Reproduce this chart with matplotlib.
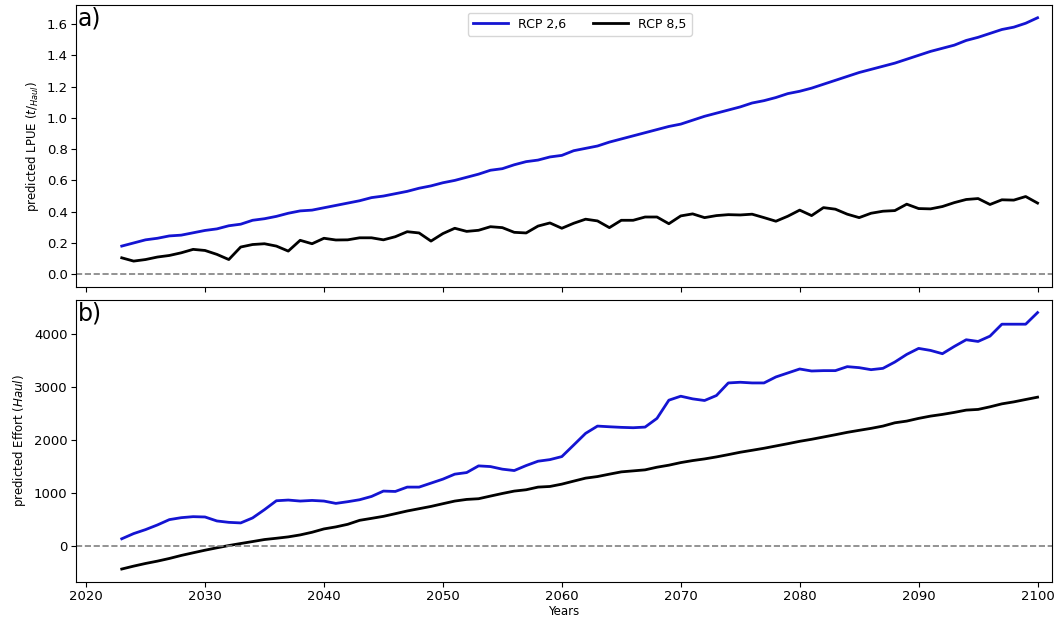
import numpy as np
import matplotlib.pyplot as plt
from matplotlib.ticker import MultipleLocator, FormatStrFormatter

years = np.arange(2023, 2101)

# predicted LPUE (t/Haul)
lpue_rcp26 = [0.18, 0.20, 0.22, 0.23, 0.245, 0.25, 0.265, 0.28, 0.29, 0.31,
              0.32, 0.345, 0.355, 0.37, 0.39, 0.405, 0.41, 0.425, 0.44, 0.455,
              0.47, 0.49, 0.50, 0.515, 0.53, 0.55, 0.565, 0.585, 0.60, 0.62,
              0.64, 0.665, 0.675, 0.70, 0.72, 0.73, 0.75, 0.76, 0.79, 0.805,
              0.82, 0.845, 0.865, 0.885, 0.905, 0.925, 0.945, 0.96, 0.985, 1.01,
              1.03, 1.05, 1.07, 1.095, 1.11, 1.13, 1.155, 1.17, 1.19, 1.215,
              1.24, 1.265, 1.29, 1.31, 1.33, 1.35, 1.375, 1.40, 1.425, 1.445,
              1.465, 1.495, 1.515, 1.54, 1.565, 1.58, 1.605, 1.64]
lpue_rcp85 = [0.105, 0.084, 0.094, 0.11, 0.12, 0.137, 0.159, 0.152, 0.127, 0.094,
              0.174, 0.19, 0.195, 0.18, 0.148, 0.217, 0.195, 0.23, 0.219, 0.22,
              0.233, 0.233, 0.22, 0.24, 0.272, 0.264, 0.212, 0.26, 0.294, 0.274,
              0.281, 0.304, 0.298, 0.268, 0.264, 0.308, 0.328, 0.294, 0.326, 0.352,
              0.341, 0.298, 0.345, 0.345, 0.366, 0.366, 0.323, 0.373, 0.386, 0.362,
              0.375, 0.381, 0.379, 0.384, 0.362, 0.339, 0.371, 0.41, 0.375, 0.426,
              0.416, 0.384, 0.362, 0.39, 0.403, 0.407, 0.448, 0.42, 0.418, 0.433,
              0.458, 0.478, 0.484, 0.446, 0.476, 0.474, 0.497, 0.455]

# predicted Effort (Haul)
effort_rcp26 = [140, 238, 313, 401, 501, 538, 557, 551, 476, 450,
                439, 533, 689, 857, 870, 851, 863, 851, 807, 839,
                876, 938, 1039, 1032, 1114, 1114, 1189, 1264, 1358, 1388,
                1514, 1501, 1452, 1426, 1520, 1602, 1632, 1689, 1907, 2127,
                2264, 2251, 2240, 2233, 2245, 2409, 2752, 2827, 2777, 2746,
                2840, 3077, 3090, 3077, 3077, 3190, 3265, 3340, 3302, 3309,
                3309, 3384, 3365, 3327, 3352, 3471, 3615, 3728, 3690, 3628,
                3765, 3891, 3859, 3959, 4184, 4184, 4184, 4403]
effort_rcp85 = [-430, -375, -325, -281, -231, -174, -124, -75, -30, 13,
                51, 88, 126, 150, 176, 213, 263, 326, 364, 413,
                488, 525, 563, 613, 664, 707, 750, 801, 851, 882,
                895, 945, 994, 1039, 1064, 1114, 1126, 1170, 1227, 1283,
                1313, 1358, 1401, 1420, 1439, 1489, 1527, 1576, 1614, 1645,
                1683, 1726, 1771, 1808, 1846, 1889, 1932, 1977, 2015, 2058,
                2101, 2146, 2184, 2221, 2264, 2326, 2358, 2409, 2452, 2484,
                2522, 2565, 2578, 2627, 2683, 2720, 2765, 2809]

blue = '#1414d2'

fig, (ax1, ax2) = plt.subplots(2, 1, figsize=(10.55, 6.19), dpi=100, sharex=True)
fig.subplots_adjust(left=0.072, right=0.997, top=0.992, bottom=0.06, hspace=0.045)

ax1.plot(years, lpue_rcp26, color=blue, lw=2, label='RCP 2,6')
ax1.plot(years, lpue_rcp85, color='black', lw=2, label='RCP 8,5')
ax1.axhline(0, color='grey', ls='--', lw=1.2)
ax1.set_ylabel('predicted LPUE ($t/_{Haul}$)', fontsize=8.5)
ax1.yaxis.set_major_locator(MultipleLocator(0.2))
ax1.yaxis.set_major_formatter(FormatStrFormatter('%.1f'))
ax1.legend(loc='upper center', bbox_to_anchor=(0.516, 0.995), ncol=2, fontsize=9,
           handlelength=2.8, columnspacing=2.2)
ax1.text(0.002, 0.995, 'a)', transform=ax1.transAxes, fontsize=17, va='top', ha='left')

ax2.plot(years, effort_rcp26, color=blue, lw=2)
ax2.plot(years, effort_rcp85, color='black', lw=2)
ax2.axhline(0, color='grey', ls='--', lw=1.2)
ax2.set_ylabel('predicted Effort ($Haul$)', fontsize=8.5)
ax2.set_xlabel('Years', fontsize=8.5, labelpad=1)
ax2.text(0.002, 0.995, 'b)', transform=ax2.transAxes, fontsize=17, va='top', ha='left')

ax2.set_xlim(2019.15, 2101.2)
for ax in (ax1, ax2):
    ax.tick_params(labelsize=9.5, pad=2.5)

fig.savefig('out.png')
